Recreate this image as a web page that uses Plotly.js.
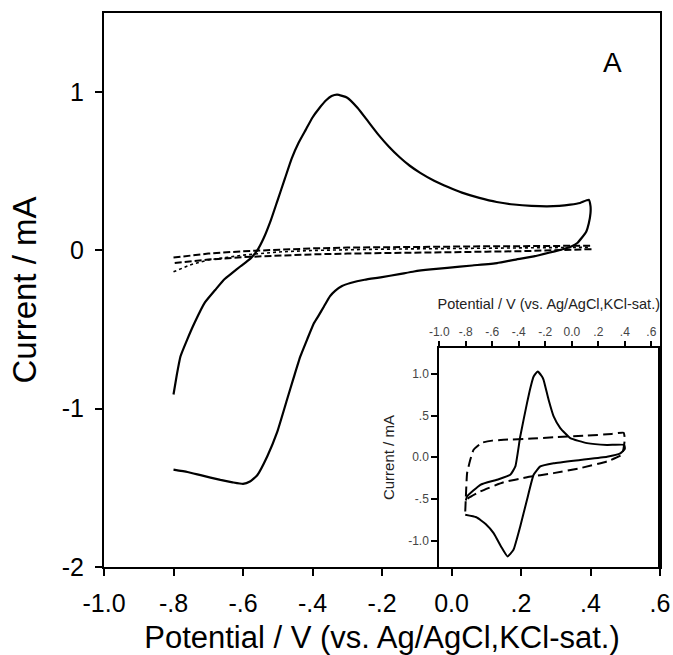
<!DOCTYPE html>
<html>
<head>
<meta charset="utf-8">
<script src="https://cdn.plot.ly/plotly-3.0.1.min.js"></script>
<style>html,body{margin:0;padding:0;background:#fff;} #chart{width:673px;height:655px;}</style>
</head>
<body>
<div id="chart"></div>
<script>
// ---- Main panel: solid CV ----
var mainSolidV = [-0.800,-0.790,-0.780,-0.760,-0.740,-0.710,-0.680,-0.655,-0.630,-0.607,-0.578,-0.559,-0.540,-0.520,-0.500,-0.480,-0.460,-0.440,-0.420,-0.400,-0.380,-0.360,-0.345,-0.329,-0.300,-0.270,-0.240,-0.210,-0.180,-0.150,-0.120,-0.090,-0.050,-0.010,0.030,0.080,0.130,0.180,0.230,0.275,0.310,0.342,0.370,0.395,0.400,0.400,0.395,0.388,0.375,0.362,0.340,0.314,0.280,0.237,0.180,0.131,0.060,-0.012,-0.060,-0.108,-0.150,-0.204,-0.250,-0.291,-0.315,-0.335,-0.350,-0.367,-0.382,-0.396,-0.415,-0.435,-0.455,-0.473,-0.502,-0.530,-0.559,-0.580,-0.600,-0.630,-0.665,-0.722,-0.760,-0.800];
var mainSolidI = [-0.91,-0.78,-0.67,-0.56,-0.46,-0.33,-0.25,-0.185,-0.14,-0.10,-0.05,0.00,0.08,0.19,0.32,0.45,0.58,0.68,0.76,0.84,0.90,0.95,0.975,0.984,0.965,0.90,0.815,0.73,0.655,0.59,0.535,0.49,0.44,0.40,0.365,0.332,0.306,0.290,0.281,0.278,0.281,0.289,0.300,0.320,0.28,0.236,0.17,0.12,0.08,0.047,0.02,0.004,-0.015,-0.038,-0.060,-0.080,-0.095,-0.110,-0.120,-0.133,-0.150,-0.170,-0.185,-0.206,-0.225,-0.255,-0.29,-0.354,-0.41,-0.46,-0.56,-0.67,-0.81,-0.94,-1.15,-1.30,-1.42,-1.46,-1.475,-1.465,-1.45,-1.42,-1.40,-1.385];

// ---- Main panel: dashed background ----
var mainDashV = [-0.80,-0.70,-0.60,-0.50,-0.40,-0.30,-0.20,-0.10,0.00,0.10,0.20,0.30,0.40,0.40,0.30,0.20,0.10,0.00,-0.10,-0.20,-0.30,-0.40,-0.50,-0.60,-0.70,-0.80];
var mainDashI = [-0.045,-0.020,-0.005,0.005,0.013,0.018,0.021,0.023,0.025,0.026,0.027,0.028,0.030,0.008,0.000,-0.005,-0.008,-0.010,-0.013,-0.016,-0.020,-0.025,-0.032,-0.042,-0.058,-0.080];

// ---- Main panel: dotted background ----
var mainDotV = [-0.80,-0.75,-0.70,-0.60,-0.50,-0.40,-0.20,0.00,0.20,0.40];
var mainDotI = [-0.135,-0.090,-0.060,-0.030,-0.010,0.000,0.008,0.012,0.015,0.020];

// ---- Inset: solid CV ----
var insetSolidV = [-0.800,-0.790,-0.690,-0.565,-0.464,-0.426,-0.389,-0.338,-0.313,-0.288,-0.258,-0.225,-0.213,-0.175,-0.137,-0.087,-0.011,0.115,0.266,0.396,0.400,0.366,0.266,0.064,-0.137,-0.238,-0.288,-0.338,-0.389,-0.440,-0.485,-0.527,-0.590,-0.650,-0.720,-0.804];
var insetSolidI = [-0.52,-0.47,-0.33,-0.27,-0.21,-0.11,0.25,0.65,0.83,0.97,1.03,0.97,0.93,0.69,0.49,0.35,0.23,0.17,0.148,0.148,0.10,0.048,0.007,-0.032,-0.072,-0.11,-0.21,-0.51,-0.83,-1.11,-1.19,-1.09,-0.91,-0.80,-0.72,-0.69];

// ---- Inset: dashed CV ----
var insetDashV = [-0.804,-0.800,-0.790,-0.766,-0.741,-0.678,-0.600,-0.515,-0.300,-0.137,0.115,0.300,0.391,0.400,0.390,0.378,0.266,0.064,-0.137,-0.338,-0.515,-0.690,-0.780,-0.804];
var insetDashI = [-0.65,-0.50,-0.19,-0.03,0.09,0.175,0.20,0.21,0.225,0.24,0.26,0.28,0.295,0.22,0.10,0.03,-0.05,-0.13,-0.19,-0.24,-0.30,-0.41,-0.49,-0.55];

// ---- Tick labels ----
var mainXTicks = [-1.0,-0.8,-0.6,-0.4,-0.2,0.0,0.2,0.4,0.6];
var mainXText = ["-1.0","-.8","-.6","-.4","-.2","0.0",".2",".4",".6"];
var mainYTicks = [-2,-1,0,1];
var mainYText = ["-2","-1","0","1"];
var insetXTicks = [-1.0,-0.8,-0.6,-0.4,-0.2,0.0,0.2,0.4,0.6];
var insetXText = ["-1.0","-.8","-.6","-.4","-.2","0.0",".2",".4",".6"];
var insetYTicks = [-1.0,-0.5,0.0,0.5,1.0];
var insetYText = ["-1.0","-.5","0.0",".5","1.0"];

var FONT = "Liberation Sans, Arial, Helvetica, sans-serif";

var traces = [
  {x: mainDotV, y: mainDotI, mode: "lines", line: {color: "#000", width: 1.6, dash: "dot"}, xaxis: "x", yaxis: "y", showlegend: false, hoverinfo: "skip"},
  {x: mainDashV, y: mainDashI, mode: "lines", line: {color: "#000", width: 2, dash: "7px,3px"}, xaxis: "x", yaxis: "y", showlegend: false, hoverinfo: "skip"},
  {x: mainSolidV, y: mainSolidI, mode: "lines", line: {color: "#000", width: 2.2, shape: "spline", smoothing: 0.4}, xaxis: "x", yaxis: "y", showlegend: false, hoverinfo: "skip"},
  {x: insetDashV, y: insetDashI, mode: "lines", line: {color: "#000", width: 2, dash: "10px,5px", shape: "spline", smoothing: 0.4}, xaxis: "x2", yaxis: "y2", showlegend: false, hoverinfo: "skip"},
  {x: insetSolidV, y: insetSolidI, mode: "lines", line: {color: "#000", width: 2, shape: "spline", smoothing: 0.4}, xaxis: "x2", yaxis: "y2", showlegend: false, hoverinfo: "skip"}
];

var layout = {
  width: 673, height: 655,
  margin: {l: 104, r: 13, t: 13, b: 88, pad: 0},
  paper_bgcolor: "#fff", plot_bgcolor: "#fff",
  font: {family: FONT, color: "#000"},
  showlegend: false,
  xaxis: {
    domain: [0, 1], range: [-1.0, 0.6], anchor: "y",
    tickmode: "array", tickvals: mainXTicks, ticktext: mainXText,
    ticks: "outside", ticklen: 7, tickwidth: 2, tickcolor: "#000",
    showline: true, linewidth: 2, linecolor: "#000", mirror: true,
    showgrid: false, zeroline: false, ticklabelstandoff: 6,
    tickfont: {family: FONT, size: 25, color: "#000"},
    title: {text: "Potential / V (vs. Ag/AgCl,KCl-sat.)", font: {family: FONT, size: 31, color: "#000"}, standoff: 11}
  },
  yaxis: {
    domain: [0, 1], range: [-2, 1.5], anchor: "x",
    tickmode: "array", tickvals: mainYTicks, ticktext: mainYText,
    ticks: "outside", ticklen: 7, tickwidth: 2, tickcolor: "#000",
    showline: true, linewidth: 2, linecolor: "#000", mirror: true,
    showgrid: false, zeroline: false, ticklabelstandoff: 6,
    tickfont: {family: FONT, size: 25, color: "#000"},
    title: {text: "Current / mA", font: {family: FONT, size: 33, color: "#000"}, standoff: 15}
  },
  xaxis2: {
    domain: [0.603, 0.997], range: [-1.0, 0.653], anchor: "y2", side: "top",
    tickmode: "array", tickvals: insetXTicks, ticktext: insetXText,
    ticks: "outside", ticklen: 5, tickwidth: 2, tickcolor: "#000",
    showline: true, linewidth: 2, linecolor: "#000", mirror: true,
    showgrid: false, zeroline: false,
    tickfont: {family: FONT, size: 12, color: "#444"},
    title: {text: "Potential / V (vs. Ag/AgCl,KCl-sat.)", font: {family: FONT, size: 14.5, color: "#222"}, standoff: 12}
  },
  yaxis2: {
    domain: [0, 0.395], range: [-1.317, 1.31], anchor: "x2",
    tickmode: "array", tickvals: insetYTicks, ticktext: insetYText,
    ticks: "outside", ticklen: 6, tickwidth: 2, tickcolor: "#000",
    showline: true, linewidth: 2, linecolor: "#000", mirror: true,
    showgrid: false, zeroline: false,
    tickfont: {family: FONT, size: 12, color: "#444"},
    title: {text: "Current / mA", font: {family: FONT, size: 15, color: "#222"}, standoff: 10}
  },
  annotations: [
    {text: "A", xref: "paper", yref: "paper", x: 0.9146, y: 0.9106, xanchor: "center", yanchor: "middle", showarrow: false, font: {family: FONT, size: 28, color: "#000"}}
  ]
};

Plotly.newPlot("chart", traces, layout, {displayModeBar: false, staticPlot: true});
</script>
</body>
</html>
